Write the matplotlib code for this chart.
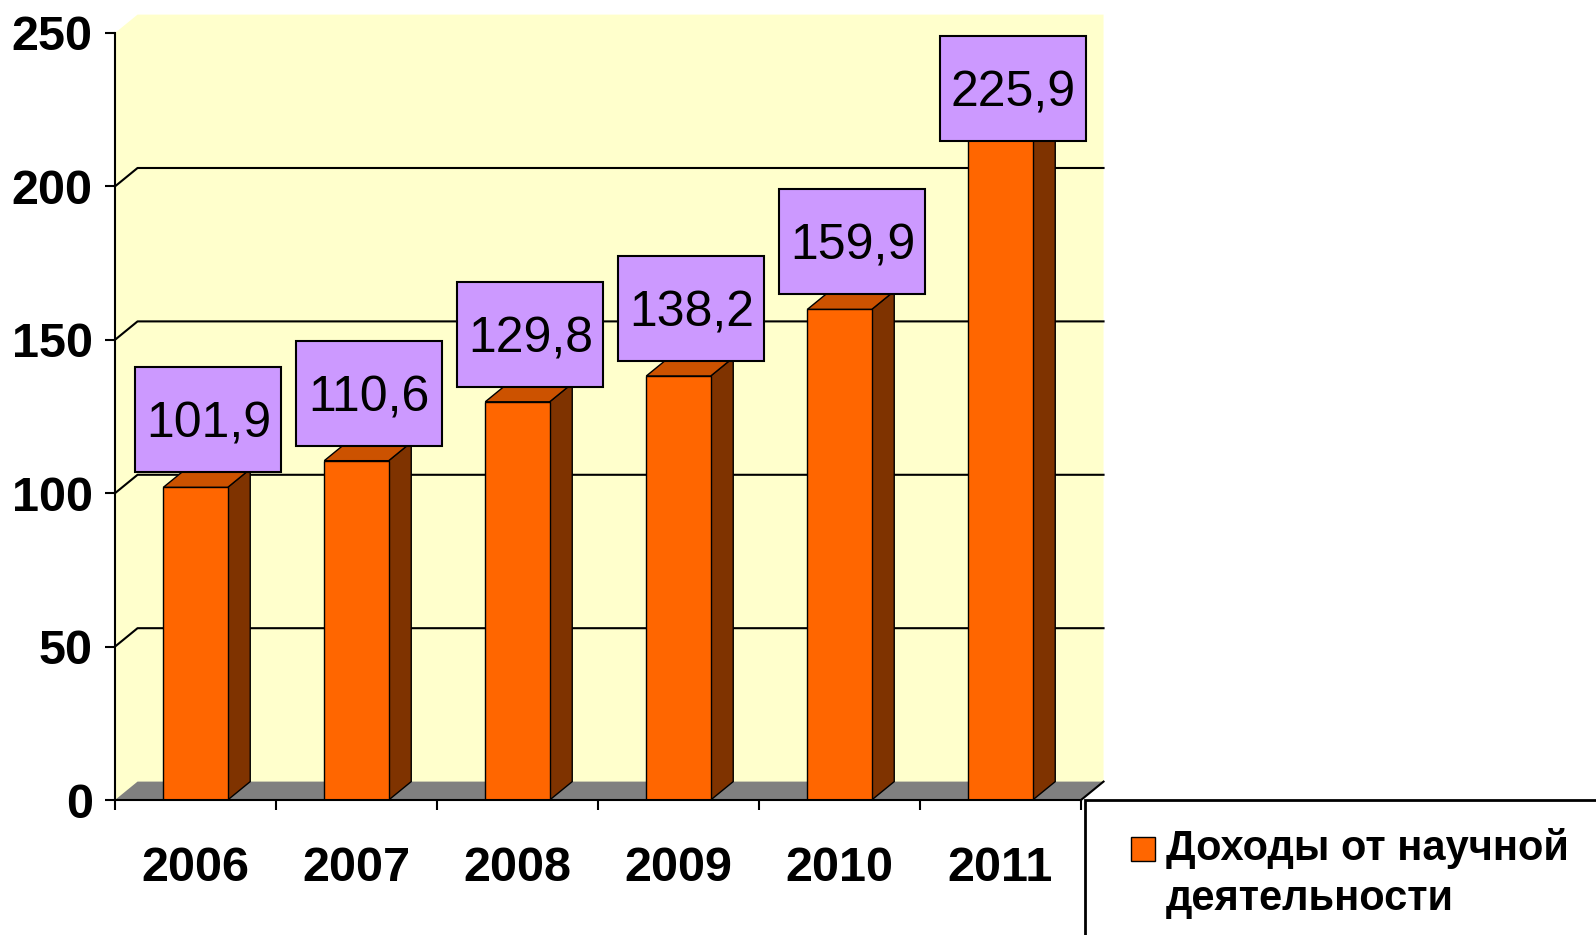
import matplotlib
matplotlib.use('Agg')
import matplotlib.pyplot as plt
from matplotlib.patches import Polygon, Rectangle

years = ['2006', '2007', '2008', '2009', '2010', '2011']
income = [101.9, 110.6, 129.8, 138.2, 159.9, 225.9]
value_labels = ['101,9', '110,6', '129,8', '138,2', '159,9', '225,9']
legend_lines = ['Доходы от научной', 'деятельности']
yticks = [0, 50, 100, 150, 200, 250]

plt.rcParams['font.family'] = ['Liberation Sans', 'DejaVu Sans']

W, H = 1596, 935
fig = plt.figure(figsize=(W / 100, H / 100), dpi=100)
ax = fig.add_axes([115 / W, 1 - 800 / H, (1081 - 115) / W, (800 - 33) / H])
ax.patch.set_visible(False)

n = len(years)
ymax = 250
ax.set_xlim(0, n)
ax.set_ylim(0, ymax)

# fake 3-D depth: in categories / data units
dx, dy = 0.14, 6.0

# walls and floor
ax.add_patch(Polygon([(0, 0), (0, ymax), (dx, ymax + dy), (n + dx, ymax + dy), (n + dx, dy), (n, 0)],
                     closed=True, fc='#FFFFCC', ec='none', clip_on=False, zorder=0))
ax.add_patch(Polygon([(0, 0), (dx, dy), (n + dx, dy), (n, 0)],
                     closed=True, fc='#808080', ec='none', clip_on=False, zorder=1))
ax.plot([n, n + dx], [0, dy], color='black', lw=1.5, clip_on=False, zorder=1)
for t in yticks[1:-1]:
    ax.plot([0, dx, n + dx], [t, t + dy, t + dy], color='black', lw=1.5, clip_on=False, zorder=1)

# bars: front face, side and top
x = [i + 0.5 for i in range(n)]
w = 0.40
ax.bar(x, income, width=w, color='#FF6600', edgecolor='black', linewidth=1, zorder=3)
for xi, v in zip(x, income):
    l, r = xi - w / 2, xi + w / 2
    ax.add_patch(Polygon([(r, 0), (r + dx, dy), (r + dx, v + dy), (r, v)],
                         closed=True, fc='#7F3300', ec='black', lw=1, clip_on=False, zorder=2))
    ax.add_patch(Polygon([(l, v), (l + dx, v + dy), (r + dx, v + dy), (r, v)],
                         closed=True, fc='#CC5200', ec='black', lw=1, clip_on=False, zorder=2))

# data labels in purple boxes
px_x = (1081 - 115) / n
px_y = (800 - 33) / ymax
bw, bh = 146 / px_x, 105 / px_y
for xi, v, s in zip(x, income, value_labels):
    cx = xi + 0.08
    cy = min(v + 22, 232)
    ax.add_patch(Rectangle((cx - bw / 2, cy - bh / 2), bw, bh, fc='#CC99FF', ec='black',
                           lw=1.5, clip_on=False, zorder=5))
    ax.annotate(s, (cx, cy), xytext=(0, -13), textcoords='offset points',
                ha='center', va='baseline', fontsize=36, zorder=6)

# axes
for side in ['top', 'right']:
    ax.spines[side].set_visible(False)
for side in ['left', 'bottom']:
    ax.spines[side].set_linewidth(1.5)
    ax.spines[side].set_zorder(4)

ax.set_yticks(yticks)
ax.set_yticklabels([str(t) for t in yticks], fontsize=35, fontweight='bold')
ax.tick_params(axis='y', length=7, width=1.5, pad=9)

ax.set_xticks(range(n + 1))
ax.set_xticklabels([])
ax.set_xticks(x, minor=True)
ax.set_xticklabels(years, minor=True, fontsize=35, fontweight='bold')
ax.tick_params(axis='x', which='major', length=7, width=1.5)
ax.tick_params(axis='x', which='minor', length=0, pad=33)

# legend box (runs off the right and bottom edge)
fig.add_artist(Rectangle((1085 / W, -0.1), 1, 0.1 + (935 - 800) / H, transform=fig.transFigure,
                         fc='white', ec='black', lw=2))
fig.add_artist(Rectangle((1131 / W, 1 - 861 / H), 24 / W, 24 / H, transform=fig.transFigure,
                         fc='#FF6600', ec='black', lw=1))
fig.text(1166 / W, 1 - 860 / H, legend_lines[0], fontsize=30, fontweight='bold', va='baseline')
fig.text(1166 / W, 1 - 910 / H, legend_lines[1], fontsize=30, fontweight='bold', va='baseline')

fig.savefig('out.png', dpi=100)
